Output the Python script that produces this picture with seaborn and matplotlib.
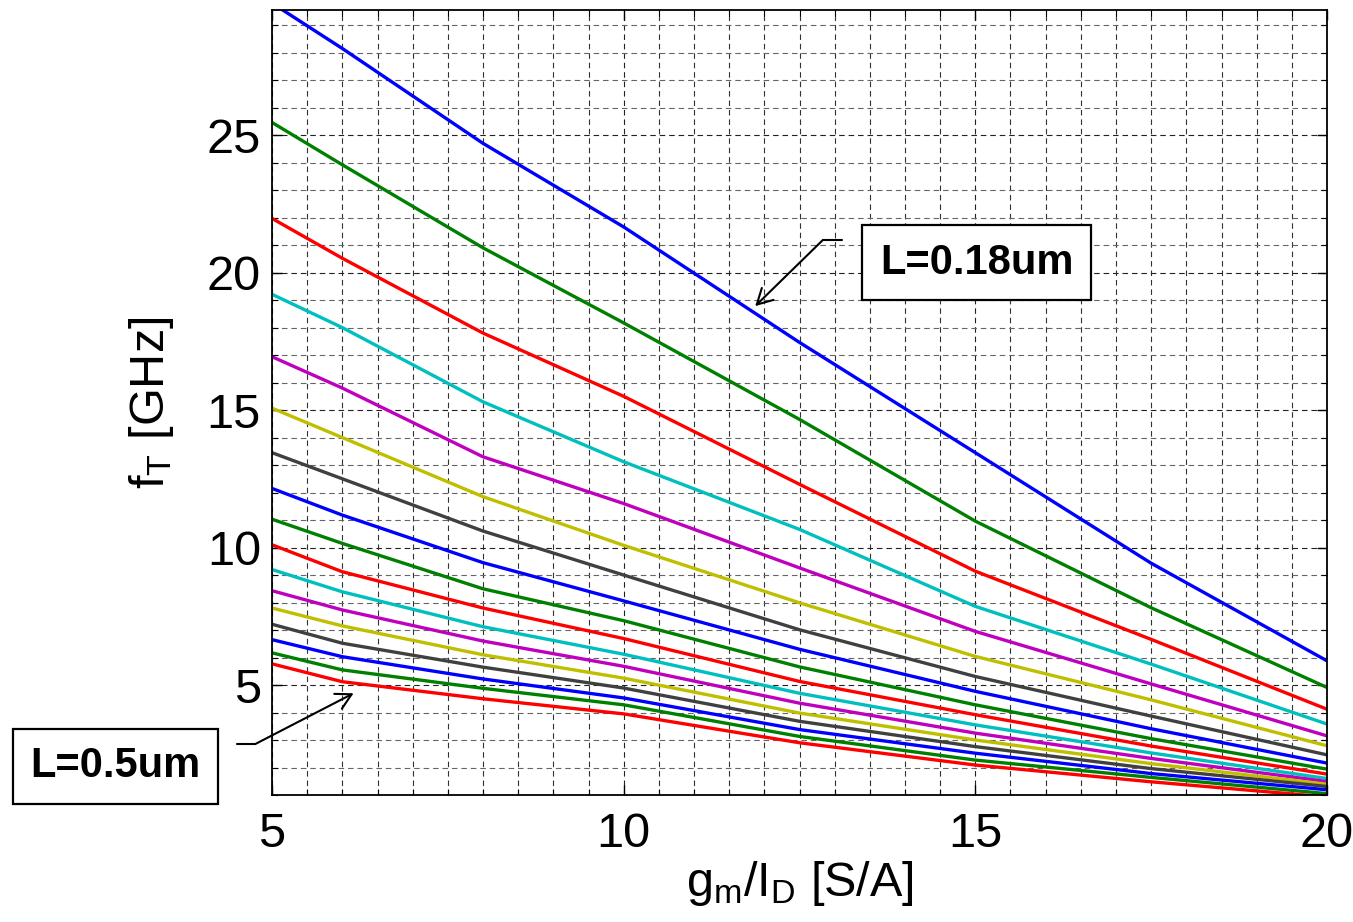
import numpy as np
import pandas as pd
import matplotlib
matplotlib.use("Agg")
import matplotlib.pyplot as plt
from matplotlib.ticker import MultipleLocator
import seaborn as sns

# ---- data ----
gm_id = [5, 6, 8, 10, 12.5, 15, 17.5, 20]
ft_curves = [
    [29.80, 28.15, 24.70, 21.66, 17.46, 13.45, 9.43, 5.88],
    [25.46, 23.92, 20.90, 18.17, 14.66, 10.96, 7.81, 4.91],
    [21.97, 20.52, 17.80, 15.50, 12.30, 9.14, 6.66, 4.12],
    [19.21, 18.00, 15.30, 13.12, 10.66, 7.86, 5.76, 3.58],
    [16.94, 15.80, 13.30, 11.60, 9.26, 6.95, 5.04, 3.15],
    [15.07, 14.00, 11.85, 10.08, 7.99, 6.04, 4.46, 2.79],
    [13.45, 12.50, 10.60, 9.00, 7.01, 5.31, 3.87, 2.46],
    [12.15, 11.18, 9.45, 8.06, 6.30, 4.77, 3.41, 2.16],
    [11.03, 10.15, 8.50, 7.34, 5.66, 4.28, 3.05, 1.94],
    [10.10, 9.12, 7.80, 6.69, 5.13, 3.92, 2.78, 1.76],
    [9.20, 8.39, 7.12, 6.12, 4.70, 3.55, 2.53, 1.60],
    [8.43, 7.73, 6.60, 5.68, 4.34, 3.25, 2.33, 1.49],
    [7.80, 7.15, 6.10, 5.25, 3.98, 3.00, 2.14, 1.39],
    [7.21, 6.52, 5.65, 4.89, 3.68, 2.76, 1.96, 1.31],
    [6.65, 6.03, 5.22, 4.53, 3.38, 2.52, 1.78, 1.19],
    [6.17, 5.55, 4.88, 4.28, 3.13, 2.27, 1.64, 1.05],
    [5.77, 5.12, 4.50, 3.95, 2.90, 2.09, 1.48, 0.93],
]
x_ticks = [5, 10, 15, 20]
y_ticks = [5, 10, 15, 20, 25]
label_top = "L=0.18um"
label_bottom = "L=0.5um"

matlab_cycle = [(0, 0, 1), (0, 0.5, 0), (1, 0, 0), (0, 0.75, 0.75),
                (0.75, 0, 0.75), (0.75, 0.75, 0), (0.25, 0.25, 0.25)]
palette = [matlab_cycle[i % 7] for i in range(len(ft_curves))]

rows = []
for k, curve in enumerate(ft_curves):
    for xv, yv in zip(gm_id, curve):
        rows.append({"gm_id": xv, "ft": yv, "curve": k})
df = pd.DataFrame(rows)

sns.set_style("ticks")
plt.rcParams["font.family"] = ["Liberation Sans", "DejaVu Sans"]
plt.rcParams["mathtext.fontset"] = "custom"
plt.rcParams["mathtext.rm"] = "Liberation Sans"
plt.rcParams["mathtext.it"] = "Liberation Sans"
for key in ["text.color", "axes.labelcolor", "xtick.color", "ytick.color", "axes.edgecolor"]:
    plt.rcParams[key] = "black"

fig = plt.figure(figsize=(13.53, 9.22), dpi=100)
ax = fig.add_axes([272 / 1353, 1 - 795 / 922, (1327 - 272) / 1353, (795 - 10) / 922])

sns.lineplot(data=df, x="gm_id", y="ft", hue="curve", palette=palette,
             estimator=None, legend=False, linewidth=2.4, ax=ax, sort=True)

ax.set_xlim(5, 20)
ax.set_ylim(1, 29.55)
ax.set_xticks(x_ticks)
ax.set_yticks(y_ticks)
ax.xaxis.set_minor_locator(MultipleLocator(0.5))
ax.yaxis.set_minor_locator(MultipleLocator(1))

dash = (0, (5, 3.5))
ax.grid(which="major", axis="x", linestyle=dash, color="#222222", linewidth=0.8)
ax.grid(which="minor", axis="x", linestyle=dash, color="#333333", linewidth=0.8)
ax.grid(which="major", axis="y", linestyle=dash, color="#222222", linewidth=0.8)
ax.grid(which="minor", axis="y", linestyle=dash, color="#666666", linewidth=0.8)
ax.set_axisbelow(True)

for s in ax.spines.values():
    s.set_visible(True)
    s.set_linewidth(1.3)
    s.set_color("black")

ax.tick_params(which="both", direction="in", top=True, right=True, color="black",
               labelcolor="black")
ax.tick_params(which="major", length=7, width=1.0, labelsize=35, pad=12)
ax.tick_params(axis="y", which="major", pad=8)
ax.tick_params(which="minor", length=4, width=0.8)

ax.set_xlabel(r"g$_\mathrm{m}$/I$_\mathrm{D}$ [S/A]", fontsize=35, labelpad=2, color="black")
ax.set_ylabel(r"f$_\mathrm{T}$ [GHz]", fontsize=35, labelpad=22, color="black")

box = dict(boxstyle="square,pad=0.42", facecolor="white", edgecolor="black", linewidth=1.6)
ax.text(15.02, 20.36, label_top, fontsize=30, fontweight="bold", ha="center", va="center",
        bbox=box, zorder=5, color="black")
ax.text(2.78, 2.05, label_bottom, fontsize=30, fontweight="bold", ha="center", va="center",
        bbox=box, zorder=5, clip_on=False, color="black")

arrow = dict(arrowstyle="->,head_length=0.55,head_width=0.3", color="black", lw=1.5,
             mutation_scale=20, shrinkA=0, shrinkB=0)
ax.annotate("", xy=(11.87, 18.78), xytext=(12.83, 21.18), arrowprops=arrow,
            annotation_clip=False, zorder=6)
ax.plot([12.83, 13.10], [21.18, 21.18], color="black", lw=1.5, clip_on=False, zorder=6)
ax.annotate("", xy=(6.16, 4.70), xytext=(4.76, 2.85), arrowprops=arrow,
            annotation_clip=False, zorder=6)
ax.plot([4.50, 4.76], [2.85, 2.85], color="black", lw=1.5, clip_on=False, zorder=6)

fig.savefig("out.png", dpi=100)
